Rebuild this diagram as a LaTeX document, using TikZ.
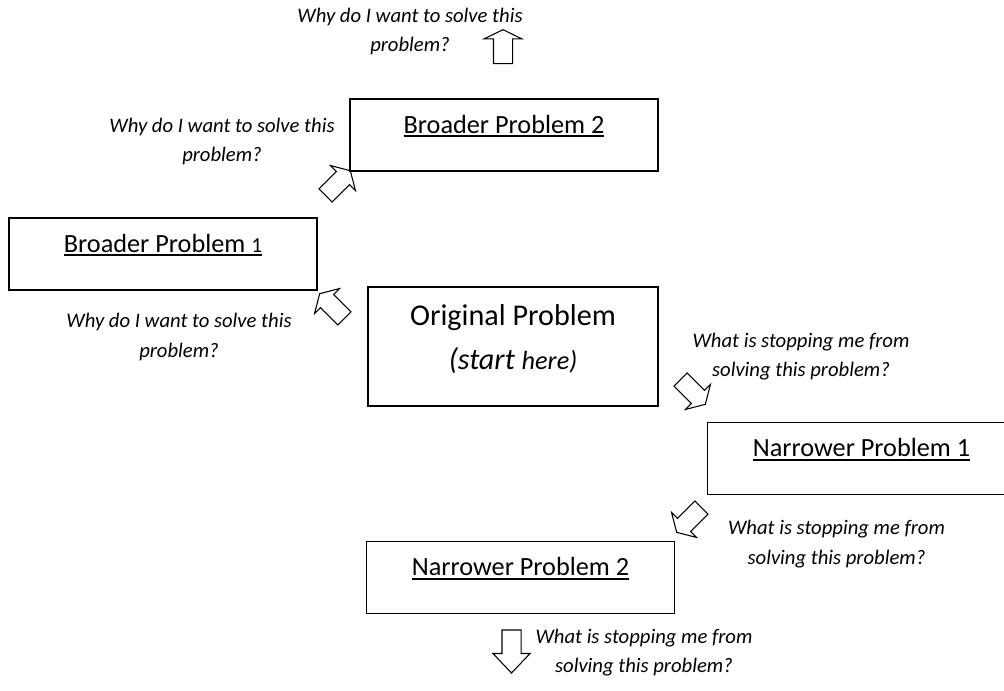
\documentclass[tikz,border=0pt]{standalone}
\usepackage{fontspec}
\setmainfont{Carlito}
\usetikzlibrary{shapes.arrows}
\newcommand{\ulbox}[1]{\setbox0=\hbox{#1}\rlap{\copy0}\rule[-3.2pt]{\wd0}{1.4pt}}
\tikzset{
	block/.style={rectangle, draw, line width=1pt, minimum width=231pt, minimum height=54pt, text height=12pt, text depth=15pt, font=\fontsize{19.7}{24}\selectfont},
	question/.style={align=center, font=\fontsize{15.5}{22.2}\selectfont\itshape},
	bigarrow/.style={single arrow, draw, line width=0.8pt, inner xsep=0pt, inner ysep=6.6pt, single arrow head extend=6.2pt, single arrow tip angle=119, minimum height=26.25pt, minimum width=25.5pt}
}

\begin{document}
\begin{tikzpicture}[x=0.75pt, y=-0.75pt]
	\useasboundingbox (0,0) rectangle (1004,690);
	% Broader problems
	\node[block] (broad2) at (504,135) {\ulbox{Broader Problem 2}};
	\node[block] (broad1) at (163,254) {\ulbox{Broader Problem {\fontsize{16}{20}\selectfont 1}}};
	\node[question] (why2) at (410,31.5) {Why do I want to solve this\\problem?};
	\node[question] (why1) at (222,141.5) {Why do I want to solve this\\problem?};
	\node[question] (why0) at (179,337) {Why do I want to solve this\\problem?};
	\node[bigarrow, rotate=90, inner ysep=6.75pt, single arrow head extend=7.1pt, single arrow tip angle=128, minimum height=25.5pt, minimum width=27.75pt] (up2) at (503,49) {};
	\node[bigarrow, rotate=45] (up1) at (336,185) {};
	\node[bigarrow, rotate=135] (up0) at (334,308) {};
	
	% Original problem
	\node[block, minimum width=217.5pt, minimum height=89.25pt, text height=40pt, text depth=5.4pt, align=center, font=\fontsize{22.6}{33}\selectfont] (orig) at (513,346.5) {Original Problem\\{\itshape (start \fontsize{19.7}{24}\selectfont here)}};
	
	% Narrower problems
	\node[block] (narrow1) at (861.5,458.5) {\ulbox{Narrower Problem 1}};
	\node[block] (narrow2) at (520.5,577.5) {\ulbox{Narrower Problem 2}};
	\node[question] (stop0) at (801,356.5) {What is stopping me from\\solving this problem?};
	\node[question] (stop1) at (836.5,544) {What is stopping me from\\solving this problem?};
	\node[question] (stop2) at (644,652.5) {What is stopping me from\\solving this problem?};
	\node[bigarrow, rotate=-45] (down0) at (691,390) {};
	\node[bigarrow, rotate=-135] (down1) at (691,518) {};
	\node[bigarrow, rotate=-90, inner ysep=6.75pt, single arrow head extend=6.75pt, single arrow tip angle=87, minimum height=32.25pt, minimum width=27pt] (down2) at (511.5,646.5) {};
\end{tikzpicture}
\end{document}
